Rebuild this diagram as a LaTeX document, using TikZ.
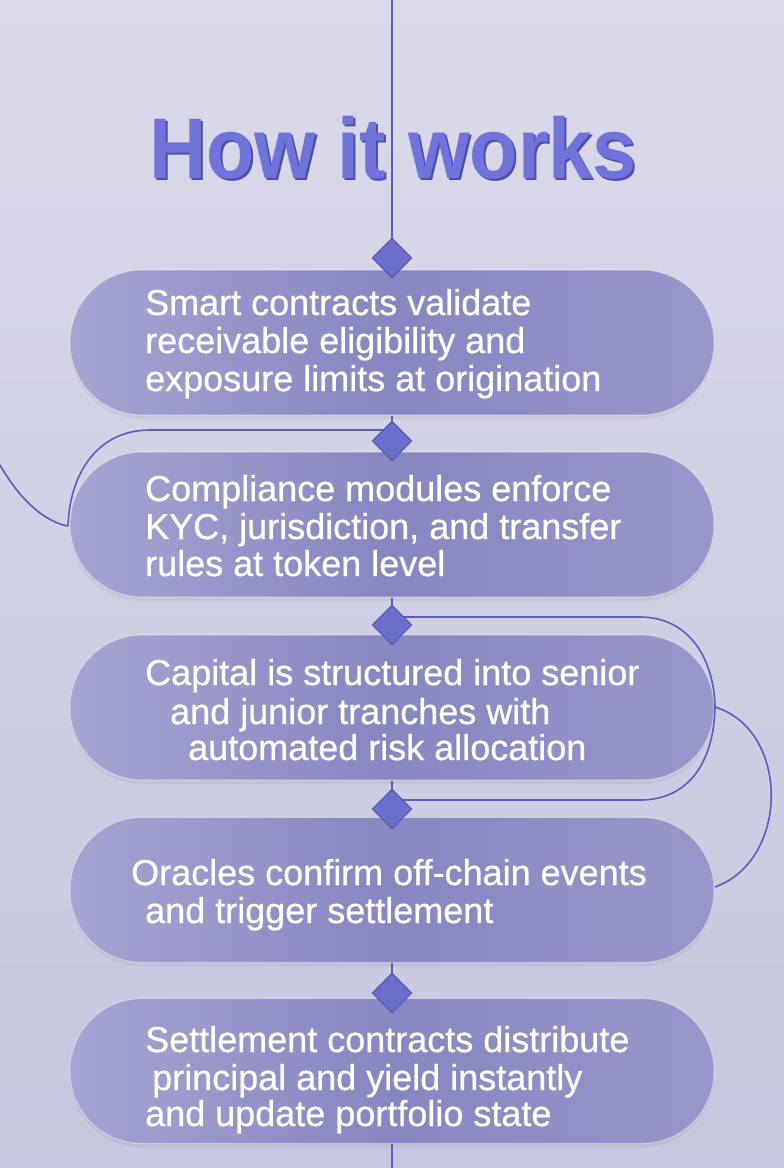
\documentclass[tikz,border=0pt]{standalone}
\usepackage{fontspec}
\setmainfont{Liberation Sans}
\newfontfamily\medfont{Liberation Sans}[FakeBold=0.6]
\usetikzlibrary{shadows}
\definecolor{bgtop}{HTML}{DADAEA}
\definecolor{bgbot}{HTML}{C6C6DE}
\definecolor{linec}{HTML}{5A5CBE}
\definecolor{boxl}{HTML}{A5A5D2}
\definecolor{boxm}{HTML}{8686C1}
\definecolor{boxr}{HTML}{9898CB}
\definecolor{diafill}{HTML}{6C6ECC}
\definecolor{diaedge}{HTML}{5052B0}
\definecolor{titlefront}{HTML}{7073D9}
\definecolor{titleback}{HTML}{4C4FAA}
\begin{document}
\begin{tikzpicture}[x=1pt,y=-1pt,
  stadium/.style={rounded corners=72pt, minimum width=644pt, minimum height=145pt,
    inner sep=0pt, left color=boxl, right color=boxr, middle color=boxm,
    draw=white, draw opacity=0.35, line width=1.2pt,
    drop shadow={opacity=0.12, shadow xshift=0pt, shadow yshift=-4pt}},
  conn/.style={draw=linec, line width=1.6pt},
  dia/.style={rotate=45, minimum size=28pt, inner sep=0pt, fill=diafill, draw=diaedge, line width=0.8pt},
  txt/.style={anchor=base west, inner sep=0pt, text=white, font=\medfont\fontsize{36}{38}\selectfont},
  ttl/.style={inner sep=0pt, font=\fontsize{86}{90}\selectfont\bfseries}
]
\useasboundingbox (0,0) rectangle (784,1168);
\fill[top color=bgtop, bottom color=bgbot] (0,0) rectangle (784,1168);

% boxes
\node[stadium] (b1) at (392,342.5) {};
\node[stadium] (b2) at (392,524.5) {};
\node[stadium] (b3) at (392,707.5) {};
\node[stadium] (b4) at (392,890) {};
\node[stadium] (b5) at (392,1071) {};

% coordinates
\coordinate (top) at (392,0);
\coordinate (bot) at (392,1168);
\coordinate (L2) at (150,430);
\coordinate (Lend) at (68,526);
\coordinate (Lfree) at (0,465);
\coordinate (R3) at (640,617);
\coordinate (R3b) at (640,800);
\coordinate (Rmid) at (715,707);
\coordinate (Rend) at (715,887);

% diamond centres
\path (392,258) coordinate (d1c) (392,441) coordinate (d2c) (392,625) coordinate (d3c)
      (392,809) coordinate (d4c) (392,993) coordinate (d5c);

% connectors
\draw[conn] (top) -- (d1c);
\draw[conn] (b1.south) -- (d2c);
\draw[conn] (b2.south) -- (d3c);
\draw[conn] (b3.south) -- (d4c);
\draw[conn] (b4.south) -- (d5c);
\draw[conn] (b5.south) -- (bot);
\draw[conn] (d2c |- L2) -- (L2) .. controls (100,430) and (70,470) .. (Lend);
\draw[conn] (Lfree) .. controls (20,500) and (45,522) .. (Lend);
\draw[conn] (d3c |- R3) -- (R3) .. controls (690,617) and (714,660) .. (Rmid)
   .. controls (714,760) and (690,800) .. (R3b) -- (d4c |- R3b);
\draw[conn] (Rmid) .. controls (790,730) and (790,860) .. (Rend);

% diamonds
\node[dia] (d1) at (d1c) {};
\node[dia] (d2) at (d2c) {};
\node[dia] (d3) at (d3c) {};
\node[dia] (d4) at (d4c) {};
\node[dia] (d5) at (d5c) {};

% title
\node[ttl, text=titleback] (titleb) at (395,150) {\scalebox{0.92}[1]{How it works}};
\node[ttl, text=titlefront] (title) at (393,148) {\scalebox{0.92}[1]{How it works}};

% texts
\node[txt] (t1a) at (145,315) {Smart contracts validate};
\node[txt] (t1b) at (145,353) {receivable eligibility and};
\node[txt] (t1c) at (145,391) {exposure limits at origination};
\node[txt] (t2a) at (145,501) {Compliance modules enforce};
\node[txt] (t2b) at (145,539) {KYC, jurisdiction, and transfer};
\node[txt] (t2c) at (145,576) {rules at token level};
\node[txt] (t3a) at (145,685) {Capital is structured into senior};
\node[txt] (t3b) at (170,724) {and junior tranches with};
\node[txt] (t3c) at (188,760) {automated risk allocation};
\node[txt] (t4a) at (131,885) {Oracles confirm off-chain events};
\node[txt] (t4b) at (145,923) {and trigger settlement};
\node[txt] (t5a) at (145,1052) {Settlement contracts distribute};
\node[txt] (t5b) at (152,1090) {principal and yield instantly};
\node[txt] (t5c) at (145,1126) {and update portfolio state};
\end{tikzpicture}
\end{document}
